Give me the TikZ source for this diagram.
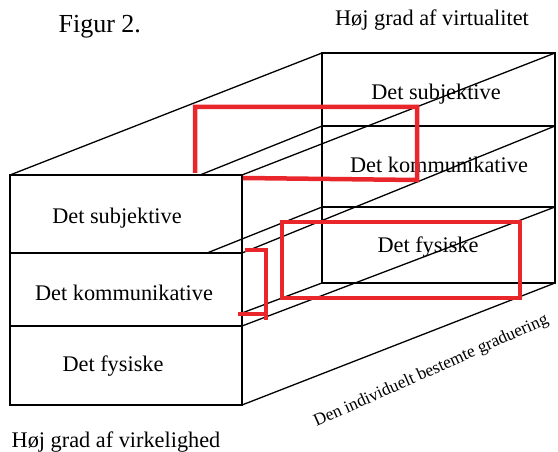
\documentclass[tikz,border=0pt]{standalone}
\usepackage{fontspec}
\setmainfont{Liberation Serif}
\usepackage{tikz}
\usetikzlibrary{calc}
\definecolor{markred}{RGB}{233,38,43}

\begin{document}
\begin{tikzpicture}[x=1pt, y=-1pt, line width=1.3pt, every node/.style={font=\fontsize{22.3}{26}\selectfont, inner sep=0pt}, redmark/.style={draw=markred, line width=4.5pt}]
\useasboundingbox (0,0) rectangle (558,452);

			% Titles and axis texts
			\node[anchor=base west, font=\fontsize{26}{30}\selectfont] (title) at (58,33) {Figur 2.};
			\node[anchor=base] (virtual) at (432,26) {Høj grad af virtualitet};
			\node[anchor=base] (real) at (116,447) {Høj grad af virkelighed};
			\node[anchor=base west, rotate=24, font=\fontsize{17.4}{21}\selectfont] (grad) at (316,427) {Den individuelt bestemte graduering};

			% Layer names, front block
			\node[anchor=base] (fsub) at (117,223) {Det subjektive};
			\node[anchor=base] (fkom) at (124,300) {Det kommunikative};
			\node[anchor=base] (ffys) at (113,371) {Det fysiske};

			% Layer names, back block
			\node[anchor=base] (bsub) at (436,100) {Det subjektive};
			\node[anchor=base] (bkom) at (439,173) {Det kommunikative};
			\node[anchor=base] (bfys) at (428,252) {Det fysiske};

			% Draw the front block
			\draw (10,175) rectangle (242,405);
			\draw (10,253) -- (242,253);
			\draw (10,326) -- (242,326);

			% Draw the back block
			\draw (10+312,175-122) rectangle (242+313,405-122);
			\draw (10+312,126) -- (242+313,126);
			\draw (10+312,207) -- (242+313,207);

			% Draw the depth lines (only the visible parts)
			\draw (10,175) -- (10+312,175-122);
			\draw (242,175) -- (242+313,175-122);
			\draw (200,175) -- (10+312,126);
			\draw (242,253) -- (242+313,126);
			\draw (207,253) -- (10+312,207);
			\draw (242,326) -- (242+313,207);
			\draw (242,313) -- (10+312,405-122);
			\draw (242,405) -- (242+313,405-122);

			% Draw the red markings
			\draw[redmark] (195,173) -- (195,107) -- (417,107) -- (417,180) -- (243,178);
			\draw[redmark] (245,250) -- (266,250) -- (266,320);
			\draw[redmark] (238,314) -- (266,314);
			\draw[redmark] (282,222) rectangle (520,298);

		\end{tikzpicture}
\end{document}
